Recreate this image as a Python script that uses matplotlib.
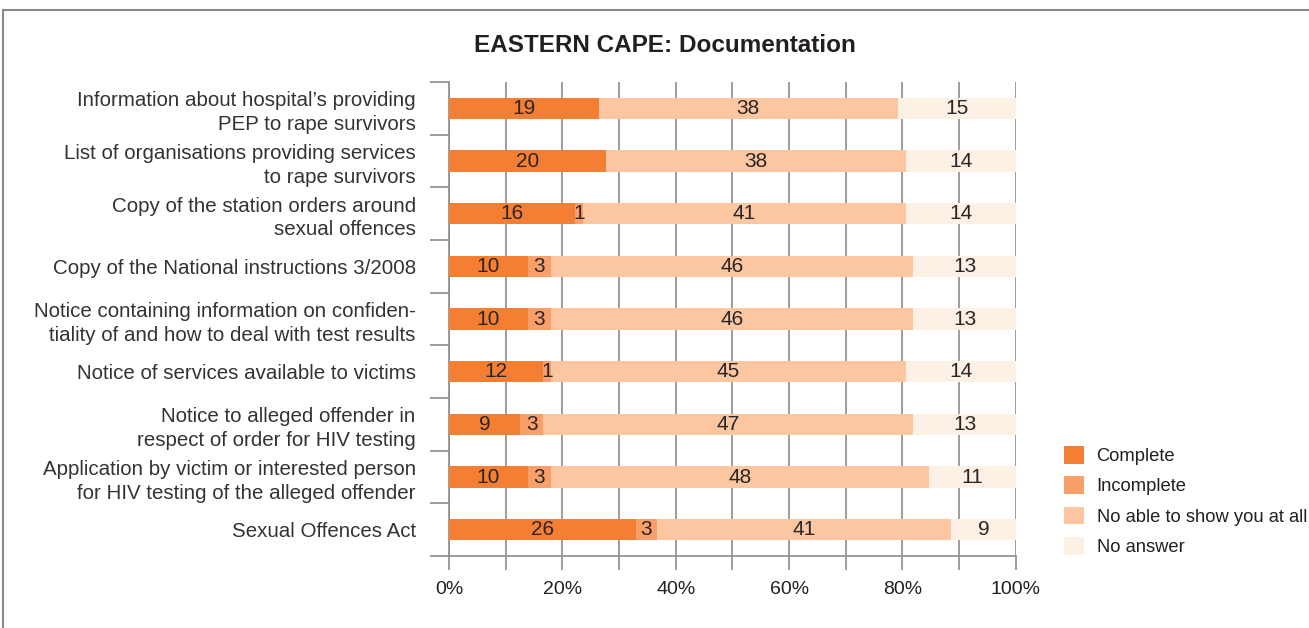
import matplotlib.pyplot as plt
from matplotlib.lines import Line2D
import numpy as np

plt.rcParams['font.family'] = ['Liberation Sans', 'DejaVu Sans']

categories = [
    "Information about hospital\u2019s providing\nPEP to rape survivors",
    "List of organisations providing services\nto rape survivors",
    "Copy of the station orders around\nsexual offences",
    "Copy of the National instructions 3/2008",
    "Notice containing information on confiden-\ntiality of and how to deal with test results",
    "Notice of services available to victims",
    "Notice to alleged offender in\nrespect of order for HIV testing",
    "Application by victim or interested person\nfor HIV testing of the alleged offender",
    "Sexual Offences Act",
]
complete = [19, 20, 16, 10, 10, 12, 9, 10, 26]
incomplete = [0, 0, 1, 3, 3, 1, 3, 3, 3]
not_shown = [38, 38, 41, 46, 46, 45, 47, 48, 41]
no_answer = [15, 14, 14, 13, 13, 14, 13, 11, 9]

series = ["Complete", "Incomplete", "No able to show you at all", "No answer"]
colors = ["#f47f32", "#f9a06a", "#fbc6a0", "#fdf0e4"]

values = np.array([complete, incomplete, not_shown, no_answer], dtype=float)
shares = values / values.sum(axis=0) * 100

fig = plt.figure(figsize=(13.09, 6.28), dpi=100)
ax = fig.add_axes([0.343, 0.1146, 0.433, 0.7548])

y = np.arange(len(categories))
left = np.zeros(len(categories))
for vals, pct, col, name in zip(values, shares, colors, series):
    ax.barh(y, pct, left=left, height=0.4, color=col, label=name, zorder=3)
    for yi, v, l, p in zip(y, vals, left, pct):
        if v > 0:
            ax.text(l + p / 2, yi, f"{int(v)}", ha='center', va='center',
                    fontsize=15, color='#2a2526', zorder=4)
    left += pct

grey = '#8c8c8c'
ax.set_xlim(0, 100)
ax.set_ylim(len(categories) - 0.5, -0.5)
ax.set_xticks(np.arange(0, 101, 20))
ax.set_xticklabels([f"{v}%" for v in range(0, 101, 20)], fontsize=14, color='#231f20')
ax.set_xticks(np.arange(0, 101, 10), minor=True)
ax.set_yticks(y)
ax.set_yticklabels(categories, fontsize=14.8, color='#333333', linespacing=1.3)
ax.set_yticks(np.arange(-0.5, len(categories), 1), minor=True)
ax.tick_params(axis='y', which='major', length=0, pad=24)
ax.tick_params(axis='y', which='minor', length=14, width=1.2, color=grey)
ax.tick_params(axis='x', which='both', length=10, width=1.2, color=grey, pad=8)
ax.grid(axis='x', which='both', color=grey, lw=1.2, zorder=1)
for side in ['top', 'right']:
    ax.spines[side].set_visible(False)
for side in ['left', 'bottom']:
    ax.spines[side].set_color(grey)
    ax.spines[side].set_linewidth(1.2)

fig.text(0.508, 0.927, "EASTERN CAPE: Documentation", ha='center', va='center',
         fontsize=17.5, fontweight='bold', color='#231f20')

leg = fig.legend(loc='upper left', bbox_to_anchor=(0.8, 0.316), frameon=False,
                 fontsize=13.2, handlelength=1.09, handleheight=1.09, handletextpad=0.7,
                 labelspacing=0.62)
for t in leg.get_texts():
    t.set_color('#231f20')

# outer frame
fig.add_artist(Line2D([0.0023, 1], [0.984, 0.984], color='#8a8a8a', lw=1.5))
fig.add_artist(Line2D([0.0023, 0.0023], [0, 0.984], color='#8a8a8a', lw=1.5))

fig.savefig('out.png', dpi=100)
